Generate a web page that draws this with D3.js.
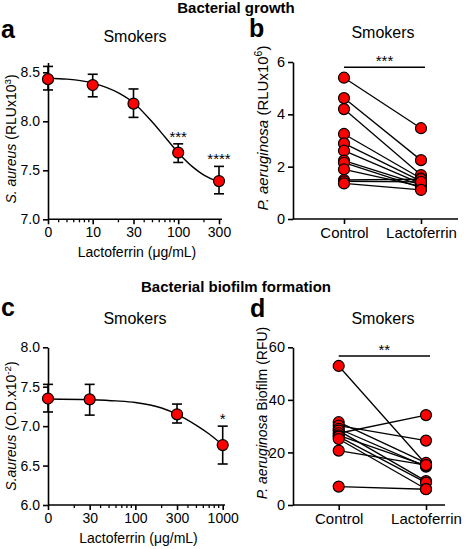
<!DOCTYPE html>
<html><head><meta charset="utf-8">
<script src="https://cdn.jsdelivr.net/npm/d3@7"></script>
<style>body{margin:0;background:#fff}svg{display:block;font-family:"Liberation Sans",Arial,sans-serif}</style>
</head><body>
<svg id="c" width="472" height="549"></svg>
<script>
// ---- Data ----
// Panel a: S. aureus growth (RLU x10^3), smokers
const concA = [0, 10, 30, 100, 300];
const meanA = [8.43, 8.37, 8.18, 7.68, 7.39];
const upA = [8.56, 8.48, 8.33, 7.77, 7.54];
const loA = [8.32, 8.25, 8.04, 7.58, 7.26];
const starsA = ["", "", "", "***", "****"];
const fitConcA = [3, 5, 10, 20, 30, 50, 70, 100, 150, 200, 300];
const fitValA = [8.44, 8.43, 8.39, 8.29, 8.19, 7.99, 7.84, 7.68, 7.53, 7.45, 7.38];
const ticksXA = [0, 10, 30, 100, 300];
const ticksYA = [7.0, 7.5, 8.0, 8.5];

// Panel b: P. aeruginosa growth (RLU x10^6), paired
const groups = ["Control", "Lactoferrin"];
const ctrlB = [5.40, 4.62, 4.20, 3.25, 2.89, 2.61, 2.23, 2.15, 1.90, 1.49, 1.44, 1.36];
const lactB = [3.47, 2.25, 1.68, 1.55, 1.45, 1.35, 1.30, 1.20, 1.25, 1.52, 1.42, 1.11];
const ticksYB = [0, 2, 4, 6];

// Panel c: S. aureus biofilm (O.D. x10^-2)
const concC = [0, 30, 300, 1000];
const meanC = [7.35, 7.34, 7.15, 6.76];
const upC = [7.53, 7.53, 7.28, 7.00];
const loC = [7.18, 7.14, 7.04, 6.52];
const starsC = ["", "", "", "*"];
const fitConcC = [10, 30, 60, 100, 200, 300, 500, 700, 1000];
const fitValC = [7.345, 7.335, 7.32, 7.30, 7.23, 7.15, 7.01, 6.90, 6.76];
const ticksXC = [0, 30, 100, 300, 1000];
const ticksYC = [6.0, 6.5, 7.0, 7.5, 8.0];

// Panel d: P. aeruginosa biofilm (RFU), paired
const ctrlD = [52.9, 31.5, 30.2, 29.0, 28.3, 27.3, 26.5, 26.0, 25.1, 20.7, 7.0];
const lactD = [15.5, 16.0, 24.5, 14.6, 9.1, 34.2, 15.0, 8.5, 6.1, 15.2, 6.0];
const ticksYD = [0, 20, 40, 60];

// ---- Drawing ----
const svg = d3.select("#c");
const RED = "#ff0000";
function txt(x, y, s, o = {}) {
  return svg.append("text").attr("x", x).attr("y", y).attr("text-anchor", o.anchor || "middle")
    .attr("font-size", o.size || 14).attr("font-weight", o.weight || "normal").attr("fill", "#000").text(s);
}
function styleAxis(g, size) {
  g.selectAll("path,line").attr("stroke", "#000").attr("stroke-width", 1.6);
  g.selectAll("text").attr("font-size", size).attr("fill", "#000")
    .attr("font-family", '"Liberation Sans",Arial,sans-serif');
}
function yLabel(x, y, parts, size) {
  const t = svg.append("text").attr("transform", `translate(${x},${y}) rotate(-90)`)
    .attr("text-anchor", "middle").attr("font-size", size).attr("fill", "#000");
  parts.forEach(p => {
    const ts = t.append("tspan").text(p.t);
    if (p.i) ts.attr("font-style", "italic");
    if (p.sup) ts.attr("baseline-shift", "super").attr("font-size", size * 0.7);
  });
}

// Headers
txt(236, 13, "Bacterial growth", {size: 15, weight: "bold"});
txt(236, 292, "Bacterial biofilm formation", {size: 15, weight: "bold"});
txt(1, 38, "a", {size: 25, weight: "bold", anchor: "start"});
txt(249, 37, "b", {size: 25, weight: "bold", anchor: "start"});
txt(1, 316, "c", {size: 25, weight: "bold", anchor: "start"});
txt(250, 317, "d", {size: 25, weight: "bold", anchor: "start"});

// Dose-response panel
function doseResponse(cfg) {
  const x = d3.scaleLog().domain(cfg.xDom).range(cfg.xRange);
  const y = d3.scaleLinear().domain(cfg.yDom).range(cfg.yRange);
  const px = c => x(c === 0 ? cfg.xDom[0] : c);
  txt(cfg.titleX, cfg.titleY, "Smokers", {size: 16});
  // x axis
  const gx = svg.append("g").attr("transform", `translate(0,${cfg.yRange[0]})`);
  gx.append("line").attr("x1", cfg.xRange[0]).attr("x2", cfg.xEnd).attr("stroke", "#000").attr("stroke-width", 1.6);
  const ax = d3.axisBottom(x).tickValues(cfg.ticksX.map(v => v === 0 ? cfg.xDom[0] : v))
    .tickFormat((d, i) => cfg.ticksX[i]).tickSize(5).tickPadding(3);
  const gAx = gx.append("g").call(ax);
  gAx.select(".domain").remove();
  styleAxis(gAx, 14);
  gx.selectAll(".minor").data(cfg.minor).join("line")
    .attr("x1", d => x(d)).attr("x2", d => x(d)).attr("y1", 0).attr("y2", 3)
    .attr("stroke", "#000").attr("stroke-width", 1.3);
  // y axis
  const ay = d3.axisLeft(y).tickValues(cfg.ticksY).tickFormat(d3.format(".1f")).tickSize(5).tickPadding(3).tickSizeOuter(0);
  const gy = svg.append("g").attr("transform", `translate(${cfg.xRange[0]},0)`).call(ay);
  styleAxis(gy, 14);
  yLabel(cfg.ylabX, cfg.ylabY, cfg.ylab, 14);
  txt((cfg.xRange[0] + cfg.xEnd) / 2 + 2, cfg.yRange[0] + 38, "Lactoferrin (\u03bcg/mL)", {size: 14});
  // fit curve
  const line = d3.line().x(d => x(d[0])).y(d => y(d[1])).curve(d3.curveMonotoneX);
  svg.append("path").attr("d", line(cfg.fitC.map((c, i) => [c, cfg.fitV[i]])))
    .attr("fill", "none").attr("stroke", "#000").attr("stroke-width", 1.4);
  // error bars
  cfg.conc.forEach((c, i) => {
    const cx = px(c);
    const g = svg.append("g").attr("stroke", "#000").attr("stroke-width", 1.6);
    g.append("line").attr("x1", cx).attr("x2", cx).attr("y1", y(cfg.up[i])).attr("y2", y(cfg.lo[i]));
    [cfg.up[i], cfg.lo[i]].forEach(v => g.append("line").attr("x1", cx - 5).attr("x2", cx + 5).attr("y1", y(v)).attr("y2", y(v)));
    if (cfg.stars[i]) txt(cx, y(cfg.up[i]) - 9, cfg.stars[i], {size: 15}).attr("dy", "0.45em");
  });
  svg.selectAll(null).data(cfg.conc).join("circle").attr("cx", d => px(d)).attr("cy", (d, i) => y(cfg.mean[i]))
    .attr("r", 5.5).attr("fill", RED).attr("stroke", "#000").attr("stroke-width", 1.2);
}

doseResponse({
  xDom: [3, 300], xRange: [48, 219], xEnd: 222, yDom: [7, 8.6], yRange: [219.3, 62.5],
  ticksX: ticksXA, ticksY: ticksYA, minor: [4, 5, 6, 7, 8, 9, 20, 40, 50, 60, 70, 80, 90, 200],
  conc: concA, mean: meanA, up: upA, lo: loA, stars: starsA, fitC: fitConcA, fitV: fitValA,
  titleX: 135, titleY: 42, ylabX: 16, ylabY: 139,
  ylab: [{t: "S. aureus", i: true}, {t: " (RLUx10"}, {t: "3", sup: true}, {t: ")"}]
});
doseResponse({
  xDom: [10, 1000], xRange: [48, 222.7], xEnd: 225, yDom: [6, 8], yRange: [505, 347.3],
  ticksX: ticksXC, ticksY: ticksYC, minor: [20, 40, 50, 60, 70, 80, 90, 200, 400, 500, 600, 700, 800, 900],
  conc: concC, mean: meanC, up: upC, lo: loC, stars: starsC, fitC: fitConcC, fitV: fitValC,
  titleX: 135, titleY: 324, ylabX: 16, ylabY: 426,
  ylab: [{t: "S.aureus", i: true}, {t: " (O.D.x10"}, {t: "-2", sup: true}, {t: ")"}]
});

// Paired panel
function paired(cfg) {
  const x = d3.scalePoint().domain(groups).range(cfg.xPts);
  const y = d3.scaleLinear().domain(cfg.yDom).range(cfg.yRange);
  txt(cfg.titleX, cfg.titleY, "Smokers", {size: 16});
  const gx = svg.append("g").attr("transform", `translate(0,${cfg.yRange[0]})`);
  gx.append("line").attr("x1", cfg.axisX).attr("x2", cfg.xEnd).attr("stroke", "#000").attr("stroke-width", 1.6);
  const gAx = gx.append("g").call(d3.axisBottom(x).tickSize(5).tickPadding(3));
  gAx.select(".domain").remove();
  styleAxis(gAx, 15);
  const gy = svg.append("g").attr("transform", `translate(${cfg.axisX},0)`)
    .call(d3.axisLeft(y).tickValues(cfg.ticksY).tickFormat(d3.format("d")).tickSize(5).tickPadding(3).tickSizeOuter(0));
  styleAxis(gy, 14.5);
  yLabel(cfg.ylabX, cfg.ylabY, cfg.ylab, cfg.ylabSize);
  // significance bar
  svg.append("line").attr("x1", x(groups[0])).attr("x2", x(groups[1]) + 4)
    .attr("y1", y(cfg.sigV)).attr("y2", y(cfg.sigV)).attr("stroke", "#000").attr("stroke-width", 1.6);
  txt((x(groups[0]) + x(groups[1])) / 2 + 2, y(cfg.sigV) - 1, cfg.sig, {size: 15});
  cfg.ctrl.forEach((v, i) => svg.append("line").attr("x1", x(groups[0])).attr("x2", x(groups[1]))
    .attr("y1", y(v)).attr("y2", y(cfg.lact[i])).attr("stroke", "#000").attr("stroke-width", 1.3));
  [[groups[0], cfg.ctrl], [groups[1], cfg.lact]].forEach(([g, vals]) => {
    svg.selectAll(null).data(vals).join("circle").attr("cx", x(g)).attr("cy", d => y(d))
      .attr("r", 5.5).attr("fill", RED).attr("stroke", "#000").attr("stroke-width", 1.2);
  });
}

paired({
  xPts: [344, 421], axisX: 293, xEnd: 458, yDom: [0, 6], yRange: [219, 62], ticksY: ticksYB,
  titleX: 383, titleY: 38, ylabX: 268, ylabY: 128, ylabSize: 15,
  ylab: [{t: "P. aeruginosa", i: true}, {t: " (RLUx10"}, {t: "6", sup: true}, {t: ")"}],
  sigV: 5.8, sig: "***", ctrl: ctrlB, lact: lactB
});
paired({
  xPts: [338.7, 426], axisX: 293, xEnd: 445, yDom: [0, 60], yRange: [505, 347.3], ticksY: ticksYD,
  titleX: 383, titleY: 324, ylabX: 267, ylabY: 413, ylabSize: 14,
  ylab: [{t: "P. aeruginosa", i: true}, {t: " Biofilm (RFU)"}],
  sigV: 56.7, sig: "**", ctrl: ctrlD, lact: lactD
});
</script>
</body></html>
